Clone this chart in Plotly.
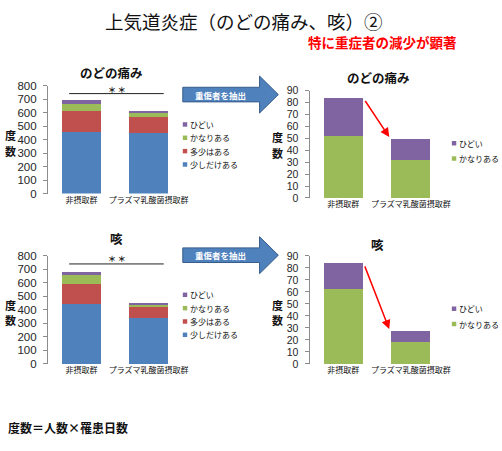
import plotly.graph_objects as go

W, H = 502, 451

categories = ["非摂取群", "プラズマ乳酸菌摂取群"]
series_names = ["少しだけある", "多少はある", "かなりある", "ひどい"]
series_colors = ["#4F81BD", "#C0504D", "#9BBB59", "#8064A2"]

# のどの痛み (sore throat)
throat_slight = [458, 449]
throat_some = [154, 115]
throat_fair = [52, 32]
throat_severe = [32, 17]

# 咳 (cough)
cough_slight = [446, 343]
cough_some = [149, 77]
cough_fair = [62, 18]
cough_severe = [22, 9]

left_ticks = list(range(0, 801, 100))
right_ticks = list(range(0, 91, 10))

FONT = "Noto Sans CJK JP"


def px(x):
    return x / W


def py(y):
    return 1 - y / H


fig = go.Figure()

panels = [
    ("x", "y", [throat_slight, throat_some, throat_fair, throat_severe], [0, 1, 2, 3]),
    ("x2", "y2", [throat_fair, throat_severe], [2, 3]),
    ("x3", "y3", [cough_slight, cough_some, cough_fair, cough_severe], [0, 1, 2, 3]),
    ("x4", "y4", [cough_fair, cough_severe], [2, 3]),
]
for xa, ya, vals_list, idxs in panels:
    for vals, i in zip(vals_list, idxs):
        fig.add_trace(go.Bar(
            x=categories, y=vals, name=series_names[i], xaxis=xa, yaxis=ya,
            marker=dict(color=series_colors[i], line=dict(width=0)),
            showlegend=False, hoverinfo="y+name",
        ))


def yaxis_style(size):
    return dict(showgrid=False, zeroline=False, showline=True, linecolor="#8c8c8c",
                linewidth=1, ticks="outside", ticklen=4, tickcolor="#8c8c8c",
                ticklabelstandoff=4,
                tickfont=dict(family="Arial", size=size, color="#262626"), fixedrange=True)


xaxis_common = dict(showgrid=False, zeroline=False, showline=False, ticks="",
                    tickfont=dict(family=FONT, size=8, color="#111111"), fixedrange=True,
                    range=[-0.5, 1.5], type="category")

layout = dict(
    width=W, height=H, autosize=False,
    margin=dict(l=0, r=0, t=0, b=0),
    paper_bgcolor="white", plot_bgcolor="white",
    barmode="stack", bargap=0.42, showlegend=False,
    font=dict(family=FONT),
)

LX = [px(48.5), px(184.5)]
RX = [px(313.3), px(450)]
layout["xaxis"] = dict(domain=LX, anchor="y", **xaxis_common)
layout["xaxis2"] = dict(domain=RX, anchor="y2", **xaxis_common)
layout["xaxis3"] = dict(domain=LX, anchor="y3", **xaxis_common)
layout["xaxis4"] = dict(domain=RX, anchor="y4", **xaxis_common)
layout["yaxis"] = dict(domain=[py(192.7), py(81.7)], anchor="x", range=[0, 800],
                       tickvals=left_ticks, **yaxis_style(11.5))
layout["yaxis2"] = dict(domain=[py(197.2), py(86.9)], anchor="x2", range=[0, 90],
                        tickvals=right_ticks, **yaxis_style(10.5))
layout["yaxis3"] = dict(domain=[py(367.7), py(256.7)], anchor="x3", range=[0, 800],
                        tickvals=left_ticks, **yaxis_style(11.5))
layout["yaxis4"] = dict(domain=[py(367.7), py(256.7)], anchor="x4", range=[0, 90],
                        tickvals=right_ticks, **yaxis_style(10.5))
fig.update_layout(**layout)

ann = []
shapes = []


def text(x, y, t, size, color="#111111", bold=False, xanchor="center"):
    ann.append(dict(x=px(x), y=py(y), xref="paper", yref="paper", text=("<b>%s</b>" % t) if bold else t,
                    showarrow=False, xanchor=xanchor, yanchor="middle",
                    font=dict(family=FONT, size=size, color=color)))


# Titles
text(246.5, 15, "上気道炎症（のどの痛み、咳）②", 18.5, "#111111")
text(387.5, 37, "特に重症者の減少が顕著", 13.5, "#FF0000", bold=True)
text(113, 68.3, "のどの痛み", 12.5, bold=True)
text(383, 73.3, "のどの痛み", 12.5, bold=True)
text(118, 239, "咳", 12.5, bold=True)
text(381.7, 245, "咳", 12.5, bold=True)

# y-axis titles (two stacked characters)
for (x, y) in [(11, 141), (280.5, 143), (11, 315), (280.5, 315)]:
    text(x, y - 8, "度", 11, bold=True)
    text(x, y + 8, "数", 11, bold=True)

# footnote
text(6, 432.7, "度数＝人数×罹患日数", 12, bold=True, xanchor="left")

# Significance markers
for (ly, sy) in [(90, 85.5), (265, 259.5)]:
    shapes.append(dict(type="line", xref="paper", yref="paper", x0=px(70), x1=px(165.7),
                       y0=py(ly), y1=py(ly), line=dict(color="#222222", width=1)))
    text(118, sy, "＊ ＊", 8, bold=True)


def legend(x, y0, step, idxs):
    for k, i in enumerate(idxs):
        yy = y0 + k * step
        shapes.append(dict(type="rect", xref="paper", yref="paper",
                           x0=px(x), x1=px(x + 4.5), y0=py(yy + 2.3), y1=py(yy - 2.3),
                           fillcolor=series_colors[i], line=dict(width=0)))
        ann.append(dict(x=px(x + 5.5), y=py(yy), xref="paper", yref="paper", text=series_names[i],
                        showarrow=False, xanchor="left", yanchor="middle",
                        font=dict(family=FONT, size=8, color="#111111")))


legend(185, 121.7, 13.7, [3, 2, 1, 0])
legend(457.3, 141, 15.7, [3, 2])
legend(185, 296.7, 13.7, [3, 2, 1, 0])
legend(457.3, 311, 15.7, [3, 2])

# Blue block arrows with label
for cy in [91, 256]:
    x0, xb, xt = 185, 262.7, 281.7
    bh, hh = 7.5, 19
    pts = [(x0, cy - bh), (xb, cy - bh), (xb, cy - hh), (xt, cy), (xb, cy + hh), (xb, cy + bh), (x0, cy + bh)]
    path = "M " + " L ".join("%f,%f" % (px(a), py(b)) for a, b in pts) + " Z"
    shapes.append(dict(type="path", xref="paper", yref="paper", path=path,
                       fillcolor="#4F81BD", line=dict(color="#385D8A", width=1)))
    text(223, cy, "重傷者を抽出", 8.5, "#FFFFFF", bold=True)

# Red arrows on the right panels (from bar 1 top to bar 2 top)
for xa, ya, fair, sev in [("x2", "y2", throat_fair, throat_severe), ("x4", "y4", cough_fair, cough_severe)]:
    t1 = fair[0] + sev[0]
    t2 = fair[1] + sev[1]
    ann.append(dict(x=0.68, y=t2 + 2, xref=xa, yref=ya, ax=0.31, ay=t1 - 1.5, axref=xa, ayref=ya,
                    showarrow=True, arrowhead=2, arrowsize=1.2, arrowwidth=1.5, arrowcolor="#FF0000",
                    text=""))

fig.update_layout(annotations=ann, shapes=shapes)
# remove the browser's default 8px body margin so the figure sits at the window's corner
fig.write_html("out.html", config={"displayModeBar": False},
               post_script="document.body.style.margin='0px';")
